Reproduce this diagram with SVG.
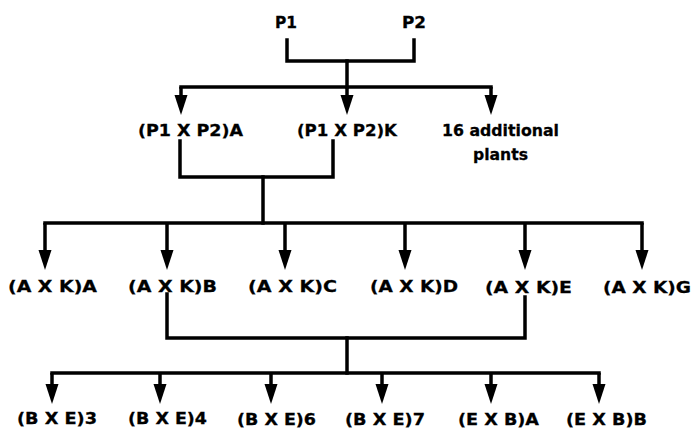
<svg xmlns="http://www.w3.org/2000/svg" width="692" height="430" viewBox="0 0 692 430">
  <style>
    .lbl { font-family: "DejaVu Sans", "Liberation Sans", Arial, sans-serif; font-weight: bold; font-size: 16.5px; fill: #000; stroke: #000; stroke-width: 0.3; }
    .wire { fill: none; stroke: #000; stroke-width: 3.5; stroke-linecap: square; stroke-linejoin: miter; }
    .drop { fill: none; stroke: #000; stroke-width: 3.5; marker-end: url(#arrow); }
  </style>
  <defs>
    <!-- downward arrowhead; the stem stops 12px above the tip -->
    <marker id="arrow" markerUnits="userSpaceOnUse" markerWidth="20" markerHeight="14" viewBox="0 0 20 14" refX="8" refY="7" orient="auto">
      <path d="M0,0.5 L20,7 L0,13.5 Z" fill="#000"/>
    </marker>
  </defs>
  <rect width="692" height="430" fill="#fff"/>

  <!-- pedigree connectors -->
  <g id="connectors">
    <!-- parents to first cross -->
    <path class="wire" d="M287,40 V61 H414 V40"/>
    <path class="wire" d="M347,61 V87"/>
    <path class="wire" d="M181,87 H491"/>
    <path class="drop" d="M181,87 V103"/>
    <path class="drop" d="M347,87 V103"/>
    <path class="drop" d="M491,87 V103"/>
    <!-- A x K crosses -->
    <path class="wire" d="M180,141 V177 H333 V141"/>
    <path class="wire" d="M263,177 V223"/>
    <path class="wire" d="M45,223 H642"/>
    <path class="drop" d="M45,223 V258"/>
    <path class="drop" d="M167,223 V258"/>
    <path class="drop" d="M285,223 V258"/>
    <path class="drop" d="M405,223 V258"/>
    <path class="drop" d="M525,223 V258"/>
    <path class="drop" d="M642,223 V258"/>
    <!-- B x E crosses -->
    <path class="wire" d="M167,294 V338 H525 V297"/>
    <path class="wire" d="M347,338 V373"/>
    <path class="wire" d="M52,373 H599"/>
    <path class="drop" d="M52,373 V392"/>
    <path class="drop" d="M160,373 V392"/>
    <path class="drop" d="M271,373 V392"/>
    <path class="drop" d="M382,373 V392"/>
    <path class="drop" d="M491,373 V392"/>
    <path class="drop" d="M599,373 V392"/>
  </g>

  <!-- parents -->
  <g id="p1"><text class="lbl" x="275" y="28" textLength="22" lengthAdjust="spacingAndGlyphs">P1</text></g>
  <g id="p2"><text class="lbl" x="402" y="28" textLength="24" lengthAdjust="spacingAndGlyphs">P2</text></g>

  <!-- first generation -->
  <g id="p1xp2-a"><text class="lbl" x="138" y="136" textLength="105" lengthAdjust="spacingAndGlyphs">(P1 X P2)A</text></g>
  <g id="p1xp2-k"><text class="lbl" x="297" y="136" textLength="100" lengthAdjust="spacingAndGlyphs">(P1 X P2)K</text></g>
  <g id="additional">
    <text class="lbl" x="442" y="136" textLength="117" lengthAdjust="spacingAndGlyphs">16 additional</text>
    <text class="lbl" x="473" y="160" textLength="55" lengthAdjust="spacingAndGlyphs">plants</text>
  </g>

  <!-- second generation -->
  <g id="axk-a"><text class="lbl" x="8" y="292" textLength="89" lengthAdjust="spacingAndGlyphs">(A X K)A</text></g>
  <g id="axk-b"><text class="lbl" x="128" y="292" textLength="89" lengthAdjust="spacingAndGlyphs">(A X K)B</text></g>
  <g id="axk-c"><text class="lbl" x="248" y="292" textLength="89" lengthAdjust="spacingAndGlyphs">(A X K)C</text></g>
  <g id="axk-d"><text class="lbl" x="370" y="292" textLength="88" lengthAdjust="spacingAndGlyphs">(A X K)D</text></g>
  <g id="axk-e"><text class="lbl" x="485" y="293" textLength="87" lengthAdjust="spacingAndGlyphs">(A X K)E</text></g>
  <g id="axk-g"><text class="lbl" x="603" y="293" textLength="88" lengthAdjust="spacingAndGlyphs">(A X K)G</text></g>

  <!-- third generation -->
  <g id="bxe-3"><text class="lbl" x="17" y="424" textLength="80" lengthAdjust="spacingAndGlyphs">(B X E)3</text></g>
  <g id="bxe-4"><text class="lbl" x="128" y="424" textLength="79" lengthAdjust="spacingAndGlyphs">(B X E)4</text></g>
  <g id="bxe-6"><text class="lbl" x="237" y="425" textLength="79" lengthAdjust="spacingAndGlyphs">(B X E)6</text></g>
  <g id="bxe-7"><text class="lbl" x="345" y="425" textLength="80" lengthAdjust="spacingAndGlyphs">(B X E)7</text></g>
  <g id="exb-a"><text class="lbl" x="458" y="425" textLength="81" lengthAdjust="spacingAndGlyphs">(E X B)A</text></g>
  <g id="exb-b"><text class="lbl" x="566" y="425" textLength="81" lengthAdjust="spacingAndGlyphs">(E X B)B</text></g>
</svg>
